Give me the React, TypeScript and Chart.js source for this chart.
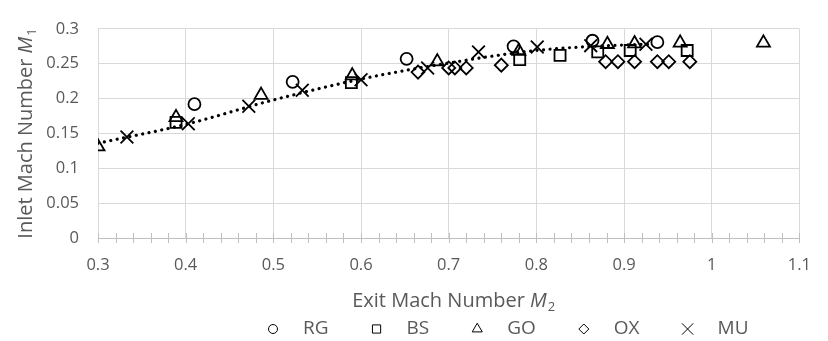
import React, { useEffect, useRef } from 'react';
import { Chart, registerables } from 'chart.js';
import { drawPoint } from 'chart.js/helpers';

Chart.register(...registerables);

// ---- data ----
const seriesNames = ['RG', 'BS', 'GO', 'OX', 'MU'];

const rgX = [0.41, 0.522, 0.652, 0.774, 0.864, 0.938];
const rgY = [0.192, 0.224, 0.257, 0.275, 0.283, 0.281];

const bsX = [0.389, 0.589, 0.781, 0.827, 0.87, 0.907, 0.972];
const bsY = [0.166, 0.223, 0.256, 0.262, 0.267, 0.269, 0.269];

const goX = [0.3, 0.389, 0.486, 0.59, 0.687, 0.78, 0.881, 0.912, 0.964, 1.059];
const goY = [0.131, 0.173, 0.205, 0.233, 0.253, 0.268, 0.278, 0.279, 0.28, 0.28];

const oxX = [0.665, 0.7, 0.707, 0.72, 0.76, 0.879, 0.893, 0.912, 0.938, 0.951, 0.975];
const oxY = [0.238, 0.244, 0.244, 0.244, 0.248, 0.253, 0.253, 0.253, 0.253, 0.253, 0.253];

const muX = [0.333, 0.403, 0.472, 0.533, 0.6, 0.676, 0.734, 0.801, 0.862, 0.925];
const muY = [0.145, 0.164, 0.189, 0.212, 0.227, 0.244, 0.267, 0.274, 0.276, 0.278];

// dotted trend line
const trendX = [0.3, 0.4, 0.5, 0.6, 0.7, 0.8, 0.9, 0.93];
const trendY = [0.136, 0.163, 0.198, 0.228, 0.251, 0.269, 0.277, 0.278];

const xTickValues = [0.3, 0.4, 0.5, 0.6, 0.7, 0.8, 0.9, 1.0, 1.1];
const xTickLabels = ['0.3', '0.4', '0.5', '0.6', '0.7', '0.8', '0.9', '1', '1.1'];
const yTickValues = [0, 0.05, 0.1, 0.15, 0.2, 0.25, 0.3];
const yTickLabels = ['0', '0.05', '0.1', '0.15', '0.2', '0.25', '0.3'];

const xTitle = 'Exit Mach Number ';
const xTitleVar = 'M';
const xTitleSub = '2';
const yTitle = 'Inlet Mach Number ';
const yTitleVar = 'M';
const yTitleSub = '1';

const FONT = 'Open Sans';
const GRAY = '#595959';

const pts = (xs: number[], ys: number[]) => xs.map((x, i) => ({ x, y: ys[i] }));

const styles = [
  { pointStyle: 'circle', radius: 6, legendRadius: 4.5 },
  { pointStyle: 'rect', radius: 7.8, legendRadius: 5.8 },
  { pointStyle: 'triangle', radius: 7.5, legendRadius: 5.8 },
  { pointStyle: 'rectRot', radius: 6.5, legendRadius: 5 },
  { pointStyle: 'crossRot', radius: 9, legendRadius: 8 },
];

function drawTitle(ctx: CanvasRenderingContext2D, main: string, v: string, sub: string, cx: number, cy: number) {
  const mainFont = `20px "${FONT}"`;
  const varFont = `italic 20px "${FONT}"`;
  const subFont = `13px "${FONT}"`;
  ctx.font = mainFont;
  const w1 = ctx.measureText(main).width;
  ctx.font = varFont;
  const w2 = ctx.measureText(v).width;
  ctx.font = subFont;
  const w3 = ctx.measureText(sub).width;
  const total = w1 + w2 + w3 + 1;
  let x = cx - total / 2;
  ctx.fillStyle = GRAY;
  ctx.textBaseline = 'alphabetic';
  ctx.textAlign = 'left';
  const base = cy + 7;
  ctx.font = mainFont;
  ctx.fillText(main, x, base);
  x += w1;
  ctx.font = varFont;
  ctx.fillText(v, x, base);
  x += w2 + 1;
  ctx.font = subFont;
  ctx.fillText(sub, x, base + 4);
}

const overlayPlugin = {
  id: 'overlay',
  afterDraw(chart: any) {
    const { ctx, chartArea, scales } = chart;
    const xs = scales.x;
    ctx.save();
    // minor tick marks (cross) on the x axis
    ctx.strokeStyle = '#bfbfbf';
    ctx.lineWidth = 1;
    for (let i = 0; i <= 40; i++) {
      const v = 0.3 + i * 0.02;
      const px = Math.round(xs.getPixelForValue(v)) + 0.5;
      ctx.beginPath();
      ctx.moveTo(px, chartArea.bottom - 5);
      ctx.lineTo(px, chartArea.bottom + 5);
      ctx.stroke();
    }
    // axis titles
    drawTitle(ctx, xTitle, xTitleVar, xTitleSub, (chartArea.left + chartArea.right) / 2 + 5, 300);
    ctx.save();
    ctx.translate(25, (chartArea.top + chartArea.bottom) / 2);
    ctx.rotate(-Math.PI / 2);
    drawTitle(ctx, yTitle, yTitleVar, yTitleSub, 0, 0);
    ctx.restore();
    // legend
    ctx.font = `19px "${FONT}"`;
    ctx.textBaseline = 'middle';
    ctx.textAlign = 'left';
    let x = 273;
    const ly = 329;
    seriesNames.forEach((name, i) => {
      ctx.strokeStyle = '#000';
      ctx.fillStyle = 'rgba(0,0,0,0)';
      drawPoint(ctx, { pointStyle: styles[i].pointStyle as any, radius: styles[i].legendRadius, rotation: 0, borderWidth: 2 }, x, ly);
      ctx.fillStyle = GRAY;
      ctx.fillText(name, x + 30, ly);
      const tw = ctx.measureText(name).width;
      x += 30 + tw + 48;
    });
    ctx.restore();
  },
};

export default function App() {
  const ref = useRef<HTMLCanvasElement | null>(null);
  useEffect(() => {
    document.body.style.margin = '0';
    const canvas = ref.current;
    if (!canvas) return;
    const datasets: any[] = [
      [rgX, rgY],
      [bsX, bsY],
      [goX, goY],
      [oxX, oxY],
      [muX, muY],
    ].map(([xs, ys], i) => ({
      label: seriesNames[i],
      data: pts(xs, ys),
      pointStyle: styles[i].pointStyle,
      pointRadius: styles[i].radius,
      pointBorderWidth: 1.8,
      pointBorderColor: '#000',
      pointBackgroundColor: 'rgba(0,0,0,0)',
      borderColor: '#000',
      backgroundColor: 'rgba(0,0,0,0)',
      showLine: false,
      order: 2,
    }));
    datasets.push({
      label: 'trend',
      data: pts(trendX, trendY),
      showLine: true,
      pointRadius: 0,
      borderColor: '#000',
      borderWidth: 3.2,
      borderDash: [0.01, 6.5],
      borderCapStyle: 'round',
      tension: 0.4,
      cubicInterpolationMode: 'monotone',
      fill: false,
      order: 1,
    });
    const chart = new Chart(canvas, {
      type: 'scatter',
      data: { datasets },
      plugins: [overlayPlugin],
      options: {
        animation: false,
        responsive: false,
        maintainAspectRatio: false,
        layout: { padding: { left: 0, right: 13, top: 19, bottom: 0 } },
        plugins: { legend: { display: false }, tooltip: { enabled: false } },
        font: { family: FONT },
        scales: {
          x: {
            type: 'linear',
            min: 0.3,
            max: 1.1,
            afterBuildTicks: (s: any) => {
              s.ticks = xTickValues.map((v) => ({ value: v }));
            },
            afterFit: (s: any) => {
              s.height = 103;
            },
            ticks: {
              callback: (_v: any, i: number) => xTickLabels[i],
              color: GRAY,
              font: { family: FONT, size: 16.5 },
              padding: 17,
              maxRotation: 0,
              autoSkip: false,
            },
            grid: { color: '#d9d9d9', lineWidth: 1, drawTicks: false },
            border: { display: true, color: '#bfbfbf', width: 1 },
          },
          y: {
            type: 'linear',
            min: 0,
            max: 0.3,
            afterBuildTicks: (s: any) => {
              s.ticks = yTickValues.map((v) => ({ value: v }));
            },
            afterFit: (s: any) => {
              s.width = 98;
            },
            ticks: {
              callback: (_v: any, i: number) => yTickLabels[i],
              color: GRAY,
              font: { family: FONT, size: 16.5 },
              padding: 19,
              autoSkip: false,
            },
            grid: { color: '#d9d9d9', lineWidth: 1, drawTicks: false },
            border: { display: false },
          },
        },
      } as any,
    });
    return () => chart.destroy();
  }, []);
  return (
    <div style={{ width: 828, height: 341, background: '#fff' }}>
      <canvas ref={ref} width={828} height={341} style={{ display: 'block' }} />
    </div>
  );
}
